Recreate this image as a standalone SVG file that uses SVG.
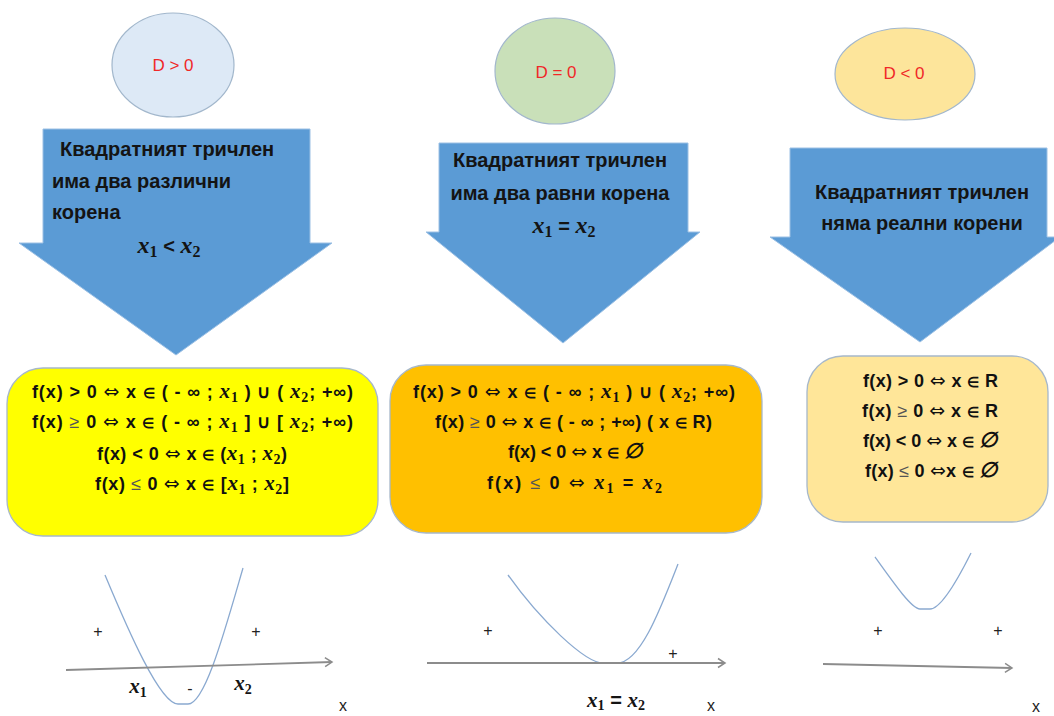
<svg xmlns="http://www.w3.org/2000/svg" width="1054" height="716" viewBox="0 0 1054 716">
<defs>
<style>
.ell{stroke:#a2b7cc;stroke-width:1.2}
.dl{font-family:"Liberation Sans",Arial,sans-serif;font-size:17px;fill:#f02828;text-anchor:middle}
.arw{fill:#5b9bd5;stroke:#9cc0e4;stroke-width:1}
.at{font-family:"Liberation Sans",Arial,sans-serif;font-size:20px;font-weight:bold;fill:#141414}
.mid{text-anchor:middle}
.mx{font-family:"Liberation Serif","Times New Roman",serif;font-style:italic;font-weight:bold;font-size:24px}
.sb{font-family:"Liberation Serif","Times New Roman",serif;font-weight:bold;font-size:16px}
.box{stroke:#a7b8ca;stroke-width:1.3}
.bt{font-family:"Liberation Sans",Arial,sans-serif;font-size:18px;font-weight:bold;fill:#111;text-anchor:middle}
.bx{font-family:"Liberation Serif","Times New Roman",serif;font-style:italic;font-weight:bold;font-size:21px}
.bs{font-family:"Liberation Serif","Times New Roman",serif;font-weight:bold;font-size:14px}
.lt{font-weight:normal;fill:#555}
.sym{font-family:"DejaVu Sans",sans-serif;font-weight:normal;font-size:19px}
.el{font-size:14px}
.para{fill:none;stroke:#8aa9d0;stroke-width:1.3}
.axis{fill:none;stroke:#8c8c8c;stroke-width:1.8}
.pl{font-family:"Liberation Sans",Arial,sans-serif;font-size:16px;fill:#222;text-anchor:middle}
</style>
<marker id="ah" markerWidth="12" markerHeight="12" refX="9" refY="6" orient="auto" markerUnits="userSpaceOnUse">
<path d="M2,1.5 L9,6 L2,10.5" fill="none" stroke="#8c8c8c" stroke-width="1.5"/>
</marker>
</defs>

<g id="node-d-pos">
<ellipse class="ell" cx="173" cy="65" rx="61" ry="52" fill="#dde9f6"/>
<text class="dl" x="173" y="71">D &gt; 0</text>
</g>
<g id="node-d-zero">
<ellipse class="ell" cx="555" cy="71" rx="60" ry="53" fill="#c9e0b9"/>
<text class="dl" x="556" y="78">D = 0</text>
</g>
<g id="node-d-neg">
<ellipse class="ell" cx="905" cy="74" rx="70" ry="46" fill="#fde59b"/>
<text class="dl" x="904" y="79">D &lt; 0</text>
</g>

<g id="node-arrow-1">
<path class="arw" d="M43,129 L310,129 L310,243 L332,243 L176,355 L19,243 L43,243 Z"/>
<text class="at" x="60" y="156">Квадратният тричлен</text>
<text class="at" x="52" y="188">има два различни</text>
<text class="at" x="52" y="219">корена</text>
<text class="at mid" x="169" y="253"><tspan class="mx">x</tspan><tspan class="sb" dy="4">1</tspan><tspan dy="-4"> &lt; </tspan><tspan class="mx">x</tspan><tspan class="sb" dy="4">2</tspan></text>
</g>
<g id="node-arrow-2">
<path class="arw" d="M439,143 L688,143 L688,232 L700,232 L563,343 L426,232 L439,232 Z"/>
<text class="at mid" x="560" y="167">Квадратният тричлен</text>
<text class="at mid" x="560" y="200">има два равни корена</text>
<text class="at mid" x="564" y="233"><tspan class="mx">x</tspan><tspan class="sb" dy="4">1</tspan><tspan dy="-4"> = </tspan><tspan class="mx">x</tspan><tspan class="sb" dy="4">2</tspan></text>
</g>
<g id="node-arrow-3">
<path class="arw" d="M790,148 L1047,148 L1047,237 L1060,237 L920,342 L770,237 L790,237 Z"/>
<text class="at mid" x="922" y="199">Квадратният тричлен</text>
<text class="at mid" x="922" y="230">няма реални корени</text>
</g>

<g id="node-box-1">
<rect class="box" x="7" y="368" width="371" height="168" rx="36" fill="#ffff00"/>
<text class="bt" x="192.5" y="398" textLength="321" lengthAdjust="spacing">f(x) &gt; 0 <tspan class="sym">⇔</tspan> x <tspan class="el">∈</tspan> ( - ∞ ; <tspan class="bx">x</tspan><tspan class="bs" dy="4">1</tspan><tspan dy="-4"> ) ∪ ( </tspan><tspan class="bx">x</tspan><tspan class="bs" dy="4">2</tspan><tspan dy="-4">; +∞)</tspan></text>
<text class="bt" x="192.5" y="428" textLength="321" lengthAdjust="spacing">f(x) <tspan class="lt">≥</tspan> 0 <tspan class="sym">⇔</tspan> x <tspan class="el">∈</tspan> ( - ∞ ; <tspan class="bx">x</tspan><tspan class="bs" dy="4">1</tspan><tspan dy="-4"> ] ∪ [ </tspan><tspan class="bx">x</tspan><tspan class="bs" dy="4">2</tspan><tspan dy="-4">; +∞)</tspan></text>
<text class="bt" x="192" y="460" textLength="190" lengthAdjust="spacing">f(x) &lt; 0 <tspan class="sym">⇔</tspan> x <tspan class="el">∈</tspan> (<tspan class="bx">x</tspan><tspan class="bs" dy="4">1</tspan><tspan dy="-4"> ; </tspan><tspan class="bx">x</tspan><tspan class="bs" dy="4">2</tspan><tspan dy="-4">)</tspan></text>
<text class="bt" x="192" y="490" textLength="194" lengthAdjust="spacing">f(x) <tspan class="lt">≤</tspan> 0 <tspan class="sym">⇔</tspan> x <tspan class="el">∈</tspan> [<tspan class="bx">x</tspan><tspan class="bs" dy="4">1</tspan><tspan dy="-4"> ; </tspan><tspan class="bx">x</tspan><tspan class="bs" dy="4">2</tspan><tspan dy="-4">]</tspan></text>
</g>
<g id="node-box-2">
<rect class="box" x="390" y="365" width="372" height="168" rx="36" fill="#ffc000"/>
<text class="bt" x="574" y="398" textLength="322" lengthAdjust="spacing">f(x) &gt; 0 <tspan class="sym">⇔</tspan> x <tspan class="el">∈</tspan> ( - ∞ ; <tspan class="bx">x</tspan><tspan class="bs" dy="4">1</tspan><tspan dy="-4"> ) ∪ ( </tspan><tspan class="bx">x</tspan><tspan class="bs" dy="4">2</tspan><tspan dy="-4">; +∞)</tspan></text>
<text class="bt" x="573.5" y="428" textLength="277" lengthAdjust="spacing">f(x) <tspan class="lt">≥</tspan> 0 <tspan class="sym">⇔</tspan> x <tspan class="el">∈</tspan> ( - ∞ ; +∞) ( x <tspan class="el">∈</tspan> R)</text>
<text class="bt" x="575" y="458" textLength="134" lengthAdjust="spacing">f(x) &lt; 0 <tspan class="sym">⇔</tspan> x <tspan class="el">∈</tspan> <tspan class="bx">∅</tspan></text>
<text class="bt" x="574.5" y="489" textLength="175" lengthAdjust="spacing">f(x) <tspan class="lt">≤</tspan> 0 <tspan class="sym">⇔</tspan> <tspan class="bx">x</tspan><tspan class="bs" dy="4">1</tspan><tspan dy="-4">  =  </tspan><tspan class="bx">x</tspan><tspan class="bs" dy="4">2</tspan></text>
</g>
<g id="node-box-3">
<rect class="box" x="807" y="356" width="241" height="166" rx="36" fill="#ffe699"/>
<text class="bt" x="930.5" y="387" textLength="135" lengthAdjust="spacing">f(x) &gt; 0 <tspan class="sym">⇔</tspan> x <tspan class="el">∈</tspan>  R</text>
<text class="bt" x="930" y="417" textLength="136" lengthAdjust="spacing">f(x) <tspan class="lt">≥</tspan> 0 <tspan class="sym">⇔</tspan> x <tspan class="el">∈</tspan> R</text>
<text class="bt" x="930" y="447" textLength="134" lengthAdjust="spacing">f(x) &lt; 0 <tspan class="sym">⇔</tspan> x <tspan class="el">∈</tspan> <tspan class="bx">∅</tspan></text>
<text class="bt" x="931" y="477" textLength="132" lengthAdjust="spacing">f(x) <tspan class="lt">≤</tspan> 0 <tspan class="sym">⇔</tspan>x <tspan class="el">∈</tspan> <tspan class="bx">∅</tspan></text>
</g>

<g id="graph-1">
<path class="para" d="M105,575 C128,630 160,704 178,704 L188,704 C205,704 225,630 243,568"/>
<text class="pl" x="98" y="637">+</text>
<text class="pl" x="256" y="637">+</text>
<text class="at mid" x="138" y="693"><tspan class="mx" style="font-size:21px">x</tspan><tspan class="sb" dy="4" style="font-size:14px">1</tspan></text>
<text class="pl" x="190" y="694">-</text>
<text class="at mid" x="243" y="690"><tspan class="mx" style="font-size:21px">x</tspan><tspan class="sb" dy="4" style="font-size:14px">2</tspan></text>
<text class="pl" x="343" y="711">x</text>
</g>
<g id="graph-2">
<path class="para" d="M508,575 C540,620 585,663 603,663 L617,663 C640,663 660,610 678,564"/>
<text class="pl" x="488" y="636">+</text>
<text class="pl" x="673" y="659">+</text>
<text class="at mid" x="616" y="707"><tspan class="mx" style="font-size:21px">x</tspan><tspan class="sb" dy="3" style="font-size:14px">1</tspan><tspan dy="-3"> = </tspan><tspan class="mx" style="font-size:21px">x</tspan><tspan class="sb" dy="3" style="font-size:14px">2</tspan></text>
<text class="pl" x="711" y="711">x</text>
</g>
<g id="graph-3">
<path class="para" d="M875,557 C895,585 912,609 920,609 L930,609 C940,609 955,585 971,553"/>
<text class="pl" x="878" y="636">+</text>
<text class="pl" x="998" y="636">+</text>
<text class="pl" x="1036" y="712">x</text>
</g>

<g id="connectors">
<path class="axis" d="M66,670 L332,662" marker-end="url(#ah)"/>
<path class="axis" d="M427,663 L725,663" marker-end="url(#ah)"/>
<path class="axis" d="M823,664 L1012,668" marker-end="url(#ah)"/>
</g>
</svg>
